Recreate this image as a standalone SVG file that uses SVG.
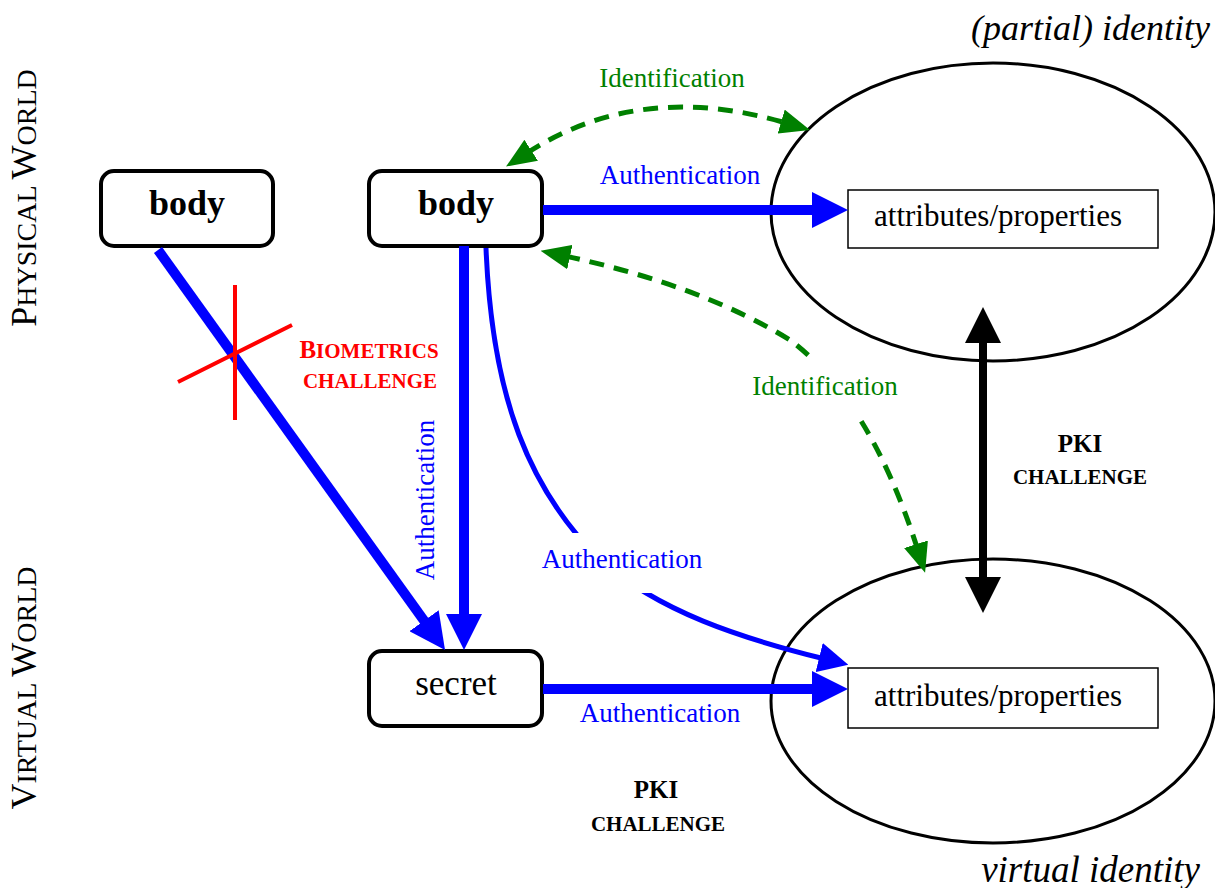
<svg xmlns="http://www.w3.org/2000/svg" width="1215" height="888" viewBox="0 0 1215 888">
<style>
.serif{font-family:"Liberation Serif","Times New Roman",serif}
.box{fill:#fff;stroke:#000;stroke-width:4}
.ell{fill:#fff;stroke:#000;stroke-width:3}
.attr{fill:#fff;stroke:#000;stroke-width:1.5}
.blue{fill:#0000ff}
.green{fill:#008000}
.red{fill:#ff0000}
.thick{fill:none;stroke:#0000ff;stroke-width:10}
.thin{fill:none;stroke:#0000ff;stroke-width:5}
.dash{fill:none;stroke:#008000;stroke-width:5;stroke-dasharray:15 10}
</style>
<defs>
<marker id="ab" viewBox="0 0 36 36" markerWidth="36" markerHeight="36" markerUnits="userSpaceOnUse" refX="8" refY="18" orient="auto"><path d="M0,0 L36,18 L0,36 z" fill="#0000ff"/></marker>
<marker id="as" viewBox="0 0 30 30" markerWidth="30" markerHeight="30" markerUnits="userSpaceOnUse" refX="6" refY="15" orient="auto"><path d="M0,0 L30,15 L0,30 z" fill="#0000ff"/></marker>
<marker id="ag" viewBox="0 0 30 25" markerWidth="30" markerHeight="25" markerUnits="userSpaceOnUse" refX="5" refY="12.5" orient="auto-start-reverse"><path d="M0,0 L30,12.5 L0,25 z" fill="#008000"/></marker>
<marker id="ak" viewBox="0 0 36 36" markerWidth="36" markerHeight="36" markerUnits="userSpaceOnUse" refX="4" refY="18" orient="auto-start-reverse"><path d="M0,0 L36,18 L0,36 z" fill="#000"/></marker>
</defs>
<rect width="1215" height="888" fill="#fff"/>

<g id="world-labels" class="serif" fill="#000">
<text transform="translate(36,198) rotate(-90)" text-anchor="middle"><tspan font-size="36">P</tspan><tspan font-size="28">HYSICAL </tspan><tspan font-size="36">W</tspan><tspan font-size="28">ORLD</tspan></text>
<text transform="translate(36,688) rotate(-90)" text-anchor="middle"><tspan font-size="36">V</tspan><tspan font-size="28">IRTUAL </tspan><tspan font-size="36">W</tspan><tspan font-size="28">ORLD</tspan></text>
</g>

<g id="partial-identity">
<ellipse class="ell" cx="993" cy="212" rx="222" ry="149"/>
<rect class="attr" x="848" y="190" width="310" height="58"/>
<text class="serif" x="998" y="226" font-size="31" text-anchor="middle">attributes/properties</text>
<text class="serif" x="1210" y="40" font-size="36" font-style="italic" text-anchor="end">(partial) identity</text>
</g>

<g id="virtual-identity">
<ellipse class="ell" cx="993" cy="701" rx="222" ry="142"/>
<rect class="attr" x="848" y="668" width="310" height="60"/>
<text class="serif" x="998" y="706" font-size="31" text-anchor="middle">attributes/properties</text>
<text class="serif" x="1200" y="882" font-size="37" font-style="italic" text-anchor="end">virtual identity</text>
</g>

<g id="body1">
<rect class="box" x="101" y="171" width="172" height="75" rx="13"/>
<text class="serif" x="187" y="215" font-size="36" font-weight="bold" text-anchor="middle">body</text>
</g>

<g id="body2">
<rect class="box" x="369" y="171" width="173" height="75" rx="13"/>
<text class="serif" x="456" y="215" font-size="36" font-weight="bold" text-anchor="middle">body</text>
</g>

<g id="secret">
<rect class="box" x="369" y="651" width="173" height="75" rx="13"/>
<text class="serif" x="456" y="695" font-size="35" text-anchor="middle">secret</text>
</g>

<g id="connectors">
<path class="thick" d="M543,210 L820,210" marker-end="url(#ab)"/>
<path class="thick" d="M543,689 L820,689" marker-end="url(#ab)"/>
<path class="thick" d="M464,246 L464,622" marker-end="url(#ab)"/>
<path class="thick" d="M158,250 L428.7,627.2" marker-end="url(#ab)"/>
<path class="thin" d="M486,248 C492,400 530,490 600,560 C660,612 740,638 825,659" marker-end="url(#as)"/>
<path class="dash" d="M527,153 Q640,80 786,123" marker-start="url(#ag)" marker-end="url(#ag)"/>
<path class="dash" d="M565,256 Q700,285 790,340 Q870,400 917.5,549" marker-start="url(#ag)" marker-end="url(#ag)"/>
<path d="M983,339 L983,581" fill="none" stroke="#000" stroke-width="8" marker-start="url(#ak)" marker-end="url(#ak)"/>

<rect x="536" y="533" width="172" height="60" fill="#fff"/>
<rect x="748" y="357" width="152" height="62" fill="#fff"/>

<g class="serif blue" font-size="27" text-anchor="middle">
<text x="680" y="184">Authentication</text>
<text x="660" y="722">Authentication</text>
<text x="622" y="568">Authentication</text>
<text transform="translate(434,500) rotate(-90)">Authentication</text>
</g>
<g class="serif green" font-size="27" text-anchor="middle">
<text x="672" y="87">Identification</text>
<text x="825" y="395">Identification</text>
</g>

<g id="biometrics-cross" stroke="#ff0000" stroke-width="4">
<line x1="235" y1="285" x2="235" y2="420"/>
<line x1="178" y1="382" x2="292" y2="325"/>
</g>
<g class="serif red" font-weight="bold" text-anchor="middle">
<text x="369" y="358"><tspan font-size="25">B</tspan><tspan font-size="21">IOMETRICS</tspan></text>
<text x="370" y="388" font-size="21">CHALLENGE</text>
</g>
<g class="serif" font-weight="bold" text-anchor="middle" fill="#000">
<text x="1080" y="452" font-size="25">PKI</text>
<text x="1080" y="484" font-size="21">CHALLENGE</text>
<text x="656" y="798" font-size="25">PKI</text>
<text x="658" y="831" font-size="21">CHALLENGE</text>
</g>
</g>
</svg>
